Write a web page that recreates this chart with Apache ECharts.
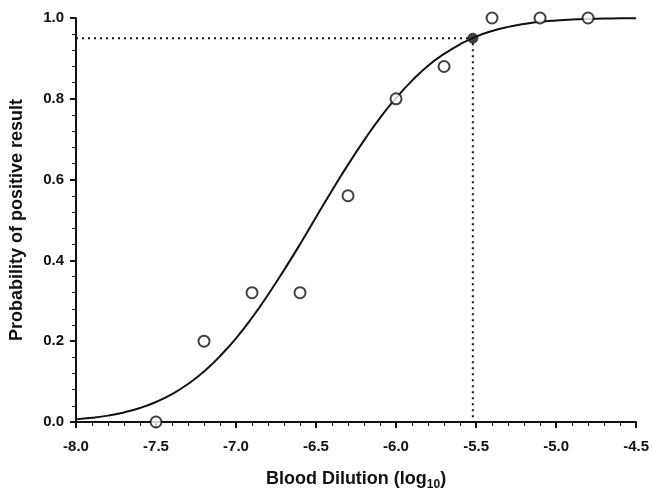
<!DOCTYPE html>
<html><head><meta charset="utf-8">
<script src="https://cdn.jsdelivr.net/npm/echarts@6/dist/echarts.min.js"></script>
<style>html,body{margin:0;padding:0;background:#fff}#c{width:652px;height:496px}</style>
</head><body><div id="c"></div>
<script>
// Observed data (open circles)
const obsX = [-7.5, -7.2, -6.9, -6.6, -6.3, -6.0, -5.7, -5.4, -5.1, -4.8];
const obsY = [0.0, 0.20, 0.32, 0.32, 0.56, 0.80, 0.88, 1.0, 1.0, 1.0];
// Fitted curve
const curveX = [-8.0,-7.9,-7.8,-7.7,-7.6,-7.5,-7.4,-7.3,-7.2,-7.1,-7.0,-6.9,-6.8,-6.7,-6.6,-6.5,-6.4,-6.3,-6.2,-6.1,-6.0,-5.9,-5.8,-5.7,-5.6,-5.5,-5.4,-5.3,-5.2,-5.1,-5.0,-4.9,-4.8,-4.7,-4.6,-4.5];
const curveY = [0.0065,0.0103,0.0158,0.0237,0.0346,0.0495,0.069,0.094,0.125,0.163,0.207,0.258,0.315,0.376,0.440,0.507,0.573,0.637,0.697,0.753,0.802,0.845,0.882,0.911,0.935,0.954,0.968,0.978,0.985,0.9906,0.994,0.9964,0.9978,0.9987,0.9993,0.9996];
// 95% detection point
const p95X = -5.52;
const p95Y = 0.95;
// Axis ranges
const xMin = -8.0, xMax = -4.5, xStep = 0.5;
const yMin = 0.0, yMax = 1.0, yStep = 0.2;

const zip = (a, b) => a.map((v, i) => [v, b[i]]);
const font = 'Liberation Sans, Arial, sans-serif';

const chart = echarts.init(document.getElementById('c'), null, {renderer: 'canvas'});
chart.setOption({
  animation: false,
  backgroundColor: '#fff',
  grid: {left: 76, right: 11, top: 18, bottom: 74},
  xAxis: {
    type: 'value', min: xMin, max: xMax, interval: xStep,
    name: '{b|Blood Dilution (log}{s|10}{b|)}',
    nameLocation: 'middle', nameGap: 45,
    nameTextStyle: {rich: {
      b: {fontFamily: font, fontWeight: 'bold', fontSize: 18, color: '#111'},
      s: {fontFamily: font, fontWeight: 'bold', fontSize: 12, color: '#111', padding: [12, 0, 0, 0]}
    }},
    axisLine: {lineStyle: {color: '#111', width: 2}},
    axisTick: {length: 6, lineStyle: {color: '#111', width: 2}},
    minorTick: {show: true, splitNumber: 5, length: 4, lineStyle: {color: '#111', width: 1}},
    splitLine: {show: false},
    axisLabel: {fontFamily: font, fontWeight: 'bold', fontSize: 15, color: '#111', margin: 17,
      formatter: v => v.toFixed(1)}
  },
  yAxis: {
    type: 'value', min: yMin, max: yMax, interval: yStep,
    name: 'Probability of positive result',
    nameLocation: 'middle', nameGap: 50,
    nameTextStyle: {fontFamily: font, fontWeight: 'bold', fontSize: 18, color: '#111'},
    axisLine: {show: true, lineStyle: {color: '#111', width: 2}},
    axisTick: {show: true, length: 6, lineStyle: {color: '#111', width: 2}},
    minorTick: {show: true, splitNumber: 5, length: 4, lineStyle: {color: '#111', width: 1}},
    splitLine: {show: false},
    axisLabel: {fontFamily: font, fontWeight: 'bold', fontSize: 15, color: '#111', margin: 12,
      formatter: v => v.toFixed(1)}
  },
  series: [
    {
      type: 'line', data: [[xMin, p95Y], [p95X, p95Y], [p95X, yMin]],
      showSymbol: false, symbol: 'none',
      lineStyle: {color: '#111', width: 2, type: [2, 4]}, z: 1
    },
    {
      type: 'line', data: zip(curveX, curveY), smooth: true,
      showSymbol: false, symbol: 'none',
      lineStyle: {color: '#111', width: 2}, z: 2
    },
    {
      type: 'scatter', data: zip(obsX, obsY), symbol: 'circle', symbolSize: 11,
      itemStyle: {color: '#fff', borderColor: '#111', borderWidth: 2}, z: 3, clip: false
    },
    {
      type: 'scatter', data: [[p95X, p95Y]], symbol: 'circle', symbolSize: 10,
      itemStyle: {color: '#111', borderColor: '#111', borderWidth: 1}, z: 4
    }
  ]
});
</script></body></html>
